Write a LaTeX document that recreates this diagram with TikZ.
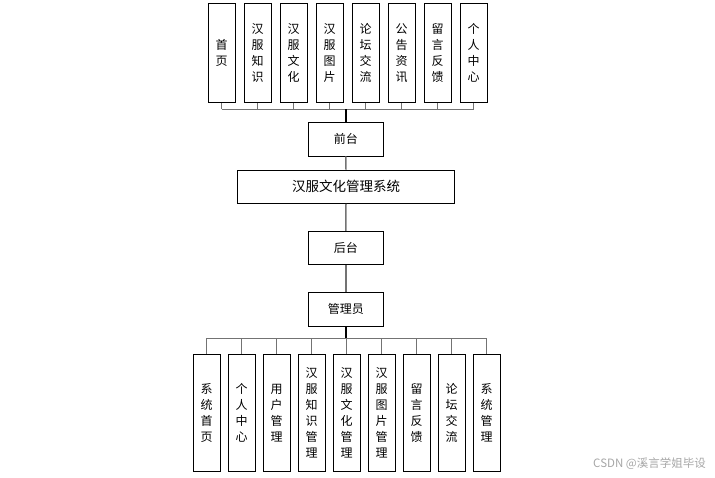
\documentclass[tikz,border=0pt]{standalone}
\usepackage{fontspec}
\setmainfont{Noto Sans CJK SC}
\begin{document}
\begin{tikzpicture}[x=1pt,y=-1pt,
  box/.style={draw=black,line width=0.8pt,fill=white,inner sep=0pt,align=center,
    font=\fontsize{12}{16}\selectfont},
  tall/.style={box,minimum width=26.7pt,minimum height=99.4pt,text width=12pt},
  talllow/.style={box,minimum width=26.7pt,minimum height=117.7pt,text width=12pt},
  mid/.style={box,minimum width=75pt,minimum height=33.4pt},
  link/.style={draw=black!55,line width=1.5pt},
  trunk/.style={draw=black,line width=2pt}]
\useasboundingbox (0,0) rectangle (715,478);
% top row
\foreach \t [count=\i from 0] in {首\\页,汉\\服\\知\\识,汉\\服\\文\\化,汉\\服\\图\\片,论\\坛\\交\\流,公\\告\\资\\讯,留\\言\\反\\馈,个\\人\\中\\心}{
  \node[tall] (t\i) at (221.7+36*\i,53) {\t};
  \coordinate (tb\i) at (221.7+36*\i,109.3);
}
\node[mid] (qt) at (345.8,139.3) {前台};
\node[box,minimum width=216.7pt,minimum height=33.4pt,font=\fontsize{13.5}{16}\selectfont] (sys) at (346,186.7) {汉服文化管理系统};
\node[mid] (ht) at (345.8,248) {后台};
\node[mid] (gly) at (345.8,309.3) {管理员};
\coordinate (tbus) at (345.8,109.3);
\foreach \i in {0,...,7}{\draw[link] (t\i.south) -- (tb\i);}
\draw[link] (tb0) -- (tb7);
\draw[trunk] (tbus) -- (qt.north);
\draw[link] (qt.south) -- (sys.north);
\draw[link] (sys.south) -- (ht.north);
\draw[link] (ht.south) -- (gly.north);
% bottom row
\foreach \t [count=\i from 0] in {系\\统\\首\\页,个\\人\\中\\心,用\\户\\管\\理,汉\\服\\知\\识\\管\\理,汉\\服\\文\\化\\管\\理,汉\\服\\图\\片\\管\\理,留\\言\\反\\馈,论\\坛\\交\\流,系\\统\\管\\理}{
  \node[talllow] (b\i) at (206.7+35*\i,412.8) {\t};
  \coordinate (bb\i) at (206.7+35*\i,338.3);
}
\coordinate (bbus) at (345.8,338.3);
\foreach \i in {0,...,8}{\draw[link] (bb\i) -- (b\i.north);}
\draw[link] (bb0) -- (bb8);
\draw[trunk] (gly.south) -- (bbus);
\node[text=black!35,font=\fontsize{11.5}{12}\selectfont,anchor=east,inner sep=0pt] (wm) at (706,464) {CSDN @溪言学姐毕设};
\end{tikzpicture}
\end{document}
